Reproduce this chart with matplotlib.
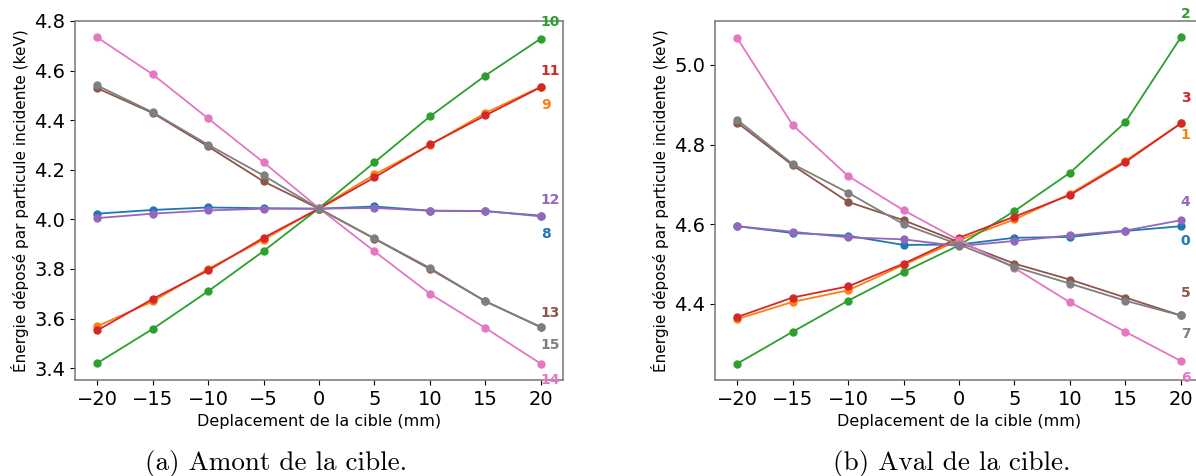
import numpy as np
import matplotlib
matplotlib.use('Agg')
from matplotlib import pyplot as plt

# deplacement de la cible (mm)
xs = [-20, -15, -10, -5, 0, 5, 10, 15, 20]

# (a) amont de la cible, series 8..15
amont_ids = [8, 9, 10, 11, 12, 13, 14, 15]
amont = {
    8:  [4.023, 4.038, 4.048, 4.045, 4.043, 4.052, 4.035, 4.033, 4.015],
    9:  [3.569, 3.669, 3.800, 3.918, 4.045, 4.181, 4.300, 4.429, 4.535],
    10: [3.420, 3.558, 3.710, 3.872, 4.045, 4.230, 4.415, 4.580, 4.729],
    11: [3.552, 3.679, 3.794, 3.926, 4.043, 4.169, 4.302, 4.419, 4.533],
    12: [4.005, 4.023, 4.036, 4.043, 4.043, 4.046, 4.035, 4.034, 4.012],
    13: [4.529, 4.429, 4.294, 4.153, 4.043, 3.922, 3.800, 3.670, 3.565],
    14: [4.734, 4.585, 4.407, 4.230, 4.045, 3.871, 3.700, 3.562, 3.418],
    15: [4.540, 4.432, 4.301, 4.177, 4.043, 3.923, 3.804, 3.669, 3.566],
}

# (b) aval de la cible, series 0..7
aval_ids = [0, 1, 2, 3, 4, 5, 6, 7]
aval = {
    0: [4.595, 4.578, 4.571, 4.548, 4.549, 4.566, 4.568, 4.583, 4.595],
    1: [4.362, 4.405, 4.434, 4.498, 4.560, 4.612, 4.676, 4.759, 4.853],
    2: [4.250, 4.330, 4.408, 4.480, 4.547, 4.633, 4.729, 4.856, 5.069],
    3: [4.367, 4.416, 4.444, 4.501, 4.566, 4.619, 4.673, 4.756, 4.853],
    4: [4.595, 4.581, 4.567, 4.562, 4.545, 4.558, 4.572, 4.584, 4.610],
    5: [4.855, 4.748, 4.656, 4.610, 4.555, 4.501, 4.461, 4.416, 4.371],
    6: [5.067, 4.849, 4.721, 4.635, 4.560, 4.490, 4.404, 4.330, 4.257],
    7: [4.862, 4.751, 4.679, 4.600, 4.549, 4.493, 4.451, 4.408, 4.371],
}

# label offsets (points) of the series number next to the last point
amont_off = {8: -13, 9: -13, 10: 12, 11: 12, 12: 12, 13: 10, 14: -12, 15: -13}
aval_off = {0: -11, 1: -8, 2: 17, 3: 18, 4: 13, 5: 16, 6: -12, 7: -13}

xlabel = 'Deplacement de la cible (mm)'
ylabel = 'Énergie déposé par particule incidente (keV)'
captions = ['(a) Amont de la cible.', '(b) Aval de la cible.']

W, H = 1196, 476
fig = plt.figure(figsize=(W/100, H/100), dpi=100)
ax0 = fig.add_axes([75/W, 1-380/H, 488/W, 359/H])
ax1 = fig.add_axes([715/W, 1-380/H, 488/W, 359/H])


def draw(ax, ids, data, offs):
    for n, k in enumerate(ids):
        color = f'C{n}'
        ax.plot(xs, data[k], color=color, marker='o', markersize=5, linewidth=1.3)
        ax.annotate(str(k), (xs[-1], data[k][-1]), xytext=(0, offs[k]),
                    textcoords='offset points', ha='left', va='center',
                    color=color, fontsize=10, fontweight='bold', annotation_clip=False)
    ax.set_xticks([-20, -15, -10, -5, 0, 5, 10, 15, 20])
    ax.tick_params(labelsize=14)
    ax.set_xlabel(xlabel, fontsize=11.5)
    ax.set_ylabel(ylabel, fontsize=11)
    for s in ax.spines.values():
        s.set_color('gray')
        s.set_linewidth(1.2)


draw(ax0, amont_ids, amont, amont_off)
draw(ax1, aval_ids, aval, aval_off)
ax0.set_yticks([3.4, 3.6, 3.8, 4.0, 4.2, 4.4, 4.6, 4.8])
ax1.set_yticks([4.4, 4.6, 4.8, 5.0])

fig.text(276/W, 1-470/H, captions[0], family='cmr10', fontsize=19.5, ha='center', va='baseline')
fig.text(952/W, 1-470/H, captions[1], family='cmr10', fontsize=19.5, ha='center', va='baseline')

fig.savefig('out.png', dpi=100)
